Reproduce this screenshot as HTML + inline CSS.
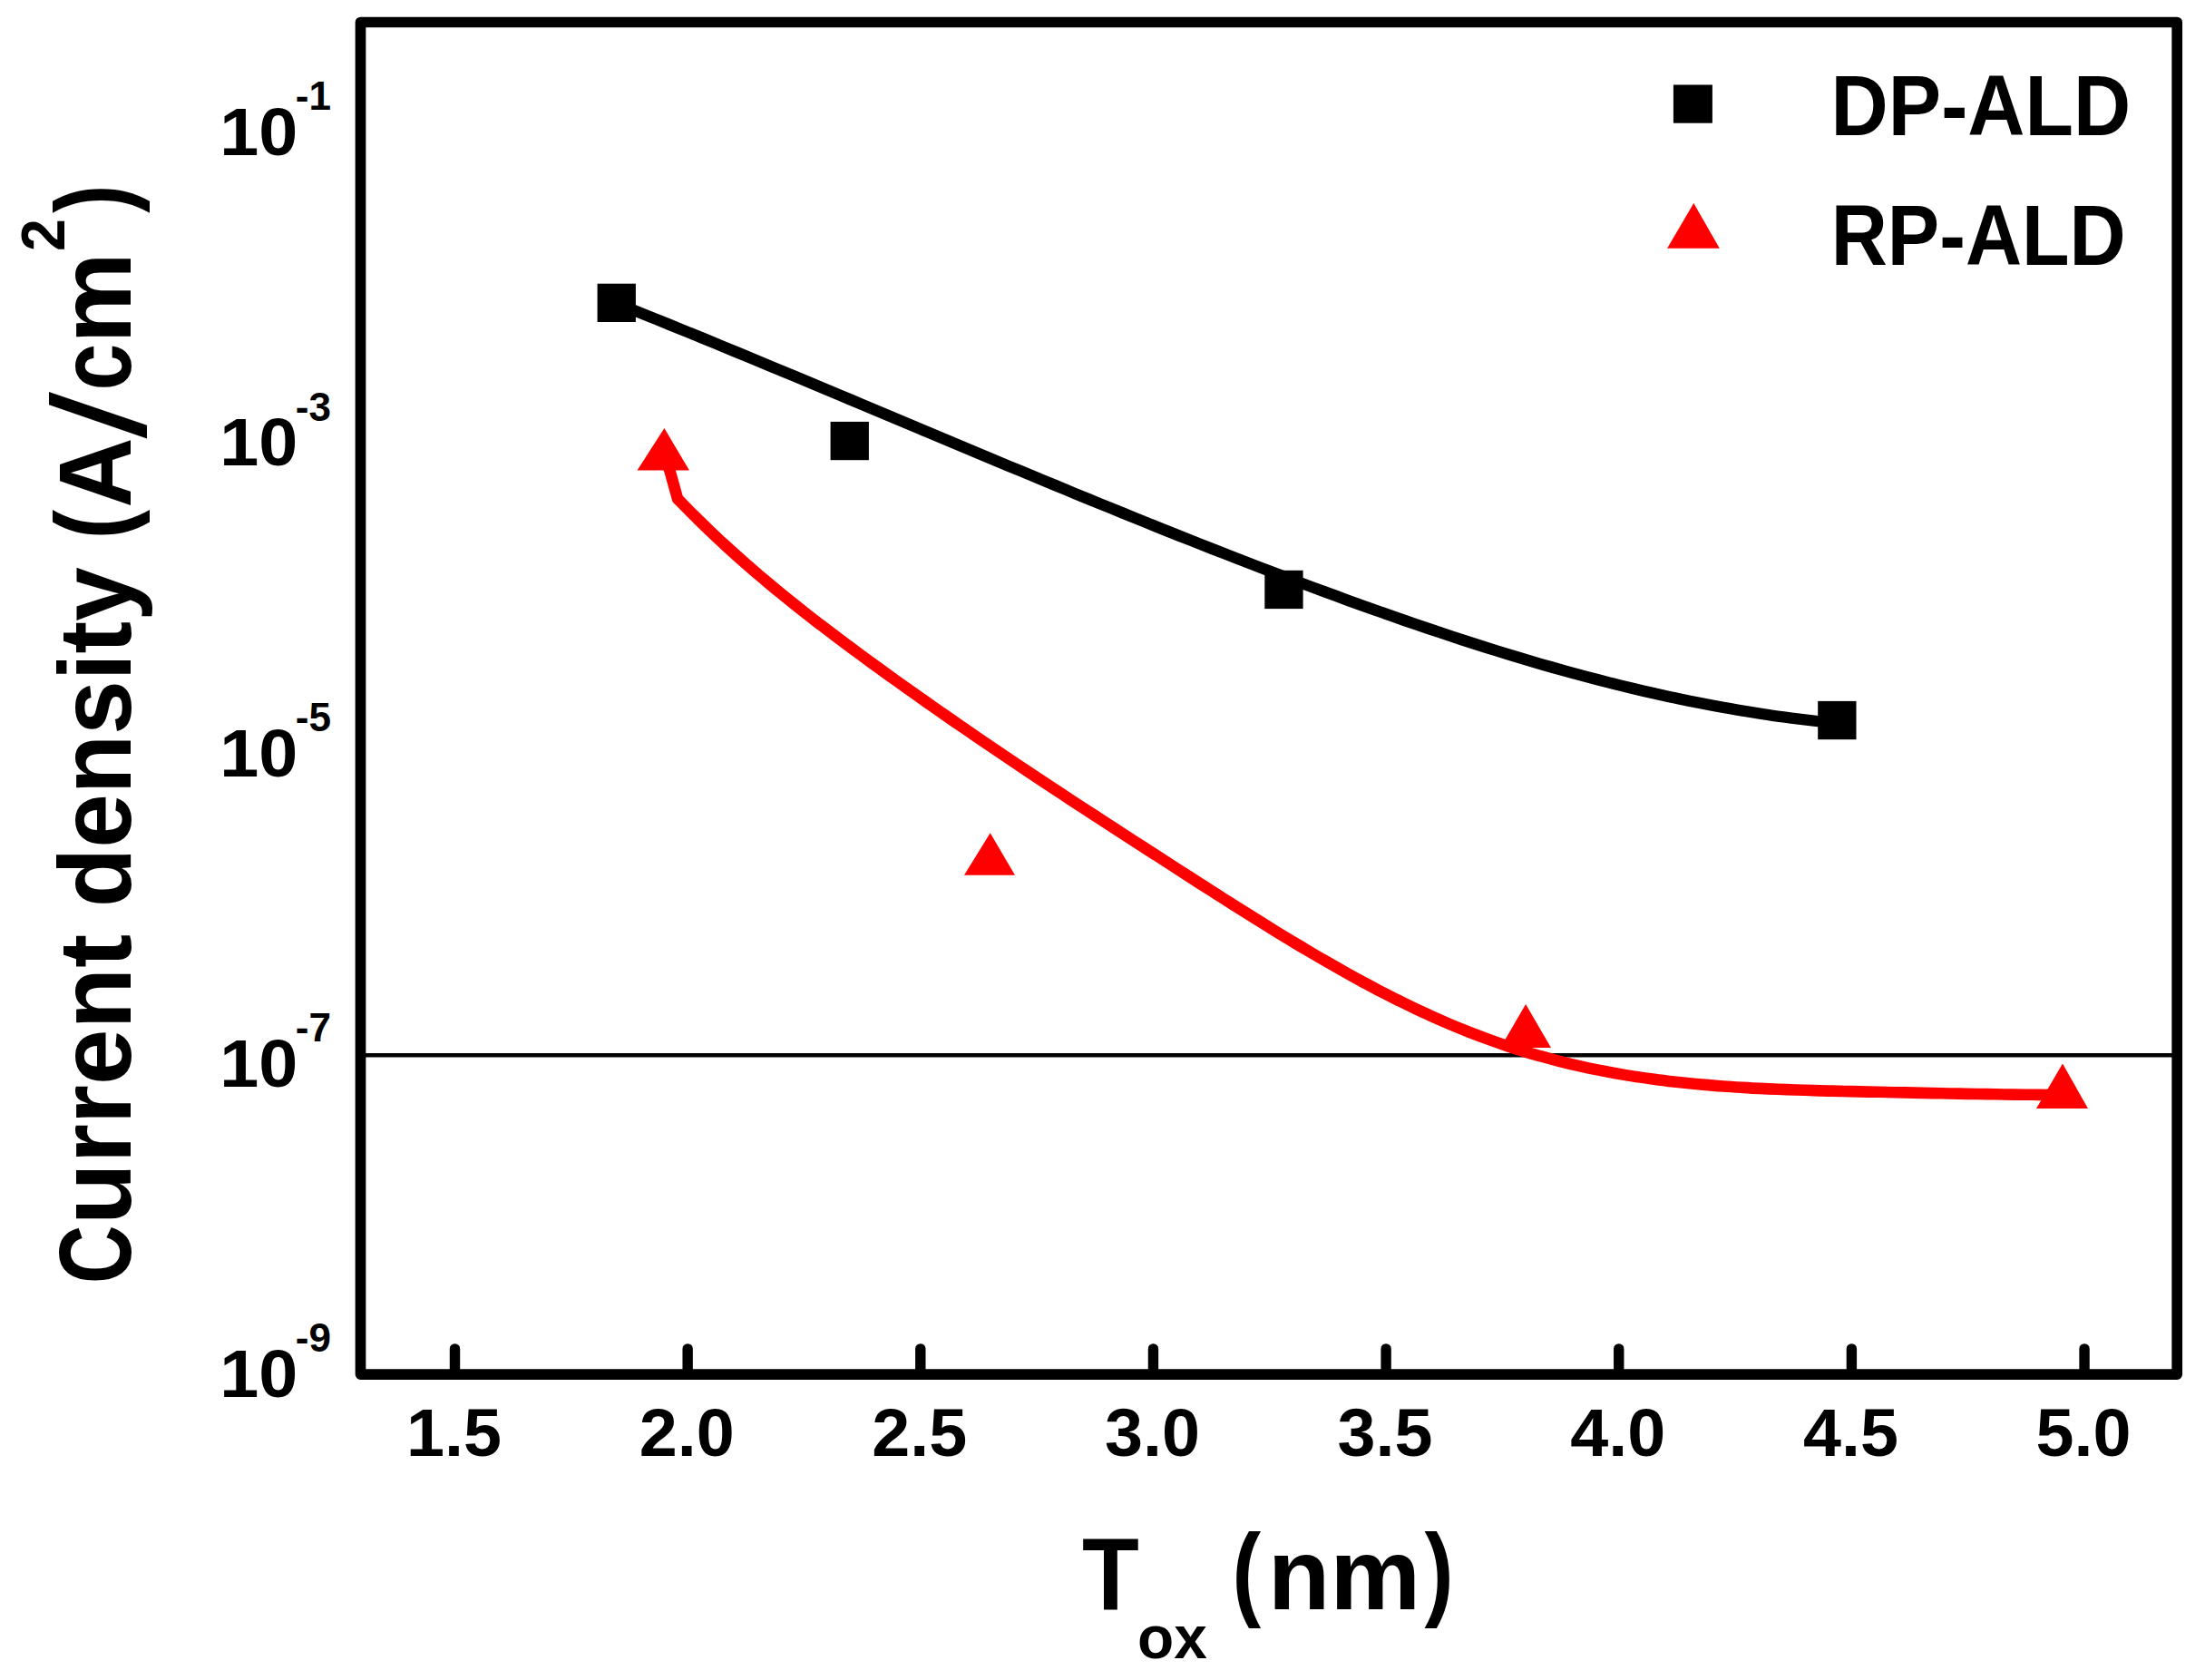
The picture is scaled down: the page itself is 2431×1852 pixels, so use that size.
<!DOCTYPE html>
<html lang="en"><head><meta charset="utf-8"><title>Current density vs Tox</title>
<style>html,body{margin:0;padding:0;background:#fff}svg{display:block}text{font-family:"Liberation Sans",Arimo,Arial,sans-serif;font-weight:bold}</style>
</head><body>
<svg width="2431" height="1852" viewBox="0 0 2431 1852">
<rect x="0" y="0" width="2431" height="1852" fill="#fff"/>
<line x1="397.5" y1="1163.30" x2="2400.2" y2="1163.30" stroke="#000" stroke-width="4.40"/>
<path d="M679.7 334.3 C683.1 335.7 692.5 339.4 700.0 342.5 C707.5 345.5 716.7 349.2 725.0 352.5 C733.3 355.9 741.7 359.3 750.0 362.7 C758.3 366.1 766.7 369.5 775.0 372.9 C783.3 376.3 791.7 379.8 800.0 383.2 C808.3 386.6 816.7 390.1 825.0 393.5 C833.3 397.0 841.7 400.4 850.0 403.9 C858.3 407.4 866.7 410.9 875.0 414.3 C883.3 417.8 891.7 421.3 900.0 424.8 C908.3 428.3 916.7 431.8 925.0 435.3 C933.3 438.7 941.7 442.2 950.0 445.7 C958.3 449.2 966.7 452.8 975.0 456.3 C983.3 459.8 991.7 463.3 1000.0 466.8 C1008.3 470.3 1016.7 473.8 1025.0 477.3 C1033.3 480.8 1041.7 484.3 1050.0 487.8 C1058.3 491.3 1066.7 494.7 1075.0 498.2 C1083.3 501.7 1091.7 505.2 1100.0 508.7 C1108.3 512.2 1116.7 515.6 1125.0 519.1 C1133.3 522.6 1141.7 526.0 1150.0 529.5 C1158.3 532.9 1166.7 536.4 1175.0 539.8 C1183.3 543.3 1191.7 546.7 1200.0 550.1 C1208.3 553.5 1216.7 556.9 1225.0 560.3 C1233.3 563.7 1241.7 567.1 1250.0 570.5 C1258.3 573.9 1266.7 577.2 1275.0 580.6 C1283.3 583.9 1291.7 587.3 1300.0 590.6 C1308.3 593.9 1316.7 597.2 1325.0 600.5 C1333.3 603.8 1341.7 607.1 1350.0 610.3 C1358.3 613.6 1366.7 616.8 1375.0 620.0 C1383.3 623.3 1391.7 626.5 1400.0 629.6 C1408.3 632.8 1416.7 636.0 1425.0 639.1 C1433.3 642.3 1441.7 645.4 1450.0 648.5 C1458.3 651.6 1466.7 654.7 1475.0 657.7 C1483.3 660.8 1491.7 663.8 1500.0 666.8 C1508.3 669.8 1516.7 672.8 1525.0 675.7 C1533.3 678.7 1541.7 681.6 1550.0 684.5 C1558.3 687.4 1566.7 690.2 1575.0 693.0 C1583.3 695.8 1591.7 698.6 1600.0 701.4 C1608.3 704.1 1616.7 706.8 1625.0 709.5 C1633.3 712.1 1641.7 714.8 1650.0 717.4 C1658.3 719.9 1666.7 722.5 1675.0 725.0 C1683.3 727.5 1691.7 729.9 1700.0 732.4 C1708.3 734.8 1716.7 737.1 1725.0 739.4 C1733.3 741.7 1741.7 744.0 1750.0 746.2 C1758.3 748.4 1766.7 750.6 1775.0 752.7 C1783.3 754.8 1791.7 756.9 1800.0 758.9 C1808.3 760.8 1816.7 762.8 1825.0 764.7 C1833.3 766.5 1841.7 768.4 1850.0 770.1 C1858.3 771.9 1866.7 773.6 1875.0 775.2 C1883.3 776.8 1891.7 778.4 1900.0 779.9 C1908.3 781.4 1916.7 782.9 1925.0 784.2 C1933.3 785.6 1941.7 786.9 1950.0 788.1 C1958.3 789.4 1966.7 790.5 1975.0 791.6 C1983.3 792.7 1991.6 793.7 2000.0 794.6 C2008.4 795.6 2021.2 796.8 2025.4 797.2" fill="none" stroke="#000" stroke-width="12.5" stroke-linejoin="round"/>
<path d="M731.5 502.6 L738.5 519.0 L747.1 550.0 C749.2 552.1 754.5 557.6 760.0 563.1 C765.5 568.5 773.3 576.3 780.0 582.7 C786.7 589.1 793.3 595.4 800.0 601.5 C806.7 607.6 813.3 613.6 820.0 619.5 C826.7 625.4 833.3 631.1 840.0 636.8 C846.7 642.4 853.3 648.0 860.0 653.4 C866.7 658.9 873.3 664.2 880.0 669.5 C886.7 674.8 893.3 680.0 900.0 685.2 C906.7 690.3 913.3 695.4 920.0 700.4 C926.7 705.5 933.3 710.4 940.0 715.4 C946.7 720.3 953.3 725.2 960.0 730.1 C966.7 734.9 973.3 739.7 980.0 744.6 C986.7 749.4 993.3 754.1 1000.0 758.9 C1006.7 763.6 1013.3 768.3 1020.0 773.0 C1026.7 777.7 1033.3 782.4 1040.0 787.0 C1046.7 791.7 1053.3 796.3 1060.0 800.9 C1066.7 805.4 1073.3 810.0 1080.0 814.6 C1086.7 819.1 1093.3 823.6 1100.0 828.1 C1106.7 832.6 1113.3 837.1 1120.0 841.6 C1126.7 846.1 1133.3 850.5 1140.0 854.9 C1146.7 859.4 1153.3 863.8 1160.0 868.2 C1166.7 872.6 1173.3 877.0 1180.0 881.4 C1186.7 885.7 1193.3 890.1 1200.0 894.5 C1206.7 898.8 1213.3 903.1 1220.0 907.5 C1226.7 911.8 1233.3 916.1 1240.0 920.5 C1246.7 924.8 1253.3 929.1 1260.0 933.4 C1266.7 937.7 1273.3 942.0 1280.0 946.3 C1286.7 950.6 1293.3 954.9 1300.0 959.2 C1306.7 963.5 1313.3 967.8 1320.0 972.1 C1326.7 976.3 1333.3 980.6 1340.0 984.9 C1346.7 989.1 1353.3 993.4 1360.0 997.6 C1366.7 1001.8 1373.3 1006.0 1380.0 1010.2 C1386.7 1014.4 1393.3 1018.5 1400.0 1022.7 C1406.7 1026.8 1413.3 1030.9 1420.0 1034.9 C1426.7 1038.9 1433.3 1043.0 1440.0 1046.9 C1446.7 1050.9 1453.3 1054.8 1460.0 1058.6 C1466.7 1062.5 1473.3 1066.3 1480.0 1070.0 C1486.7 1073.8 1493.3 1077.5 1500.0 1081.1 C1506.7 1084.7 1513.3 1088.3 1520.0 1091.8 C1526.7 1095.2 1533.3 1098.7 1540.0 1102.0 C1546.7 1105.3 1553.3 1108.6 1560.0 1111.8 C1566.7 1114.9 1573.3 1118.0 1580.0 1121.0 C1586.7 1124.0 1593.3 1126.9 1600.0 1129.7 C1606.7 1132.5 1613.3 1135.2 1620.0 1137.9 C1626.7 1140.5 1633.3 1143.0 1640.0 1145.4 C1646.7 1147.9 1653.3 1150.2 1660.0 1152.4 C1666.7 1154.7 1673.3 1156.8 1680.0 1158.9 C1686.7 1160.9 1693.3 1162.9 1700.0 1164.7 C1706.7 1166.6 1713.3 1168.4 1720.0 1170.1 C1726.7 1171.8 1733.3 1173.4 1740.0 1174.9 C1746.7 1176.4 1753.3 1177.8 1760.0 1179.2 C1766.7 1180.6 1773.3 1181.8 1780.0 1183.0 C1786.7 1184.2 1793.3 1185.3 1800.0 1186.4 C1806.7 1187.5 1813.3 1188.4 1820.0 1189.3 C1826.7 1190.3 1833.3 1191.1 1840.0 1191.9 C1846.7 1192.7 1853.3 1193.4 1860.0 1194.1 C1866.7 1194.8 1873.3 1195.4 1880.0 1195.9 C1886.7 1196.5 1893.3 1197.0 1900.0 1197.5 C1906.7 1198.0 1913.3 1198.4 1920.0 1198.8 C1926.7 1199.2 1933.3 1199.6 1940.0 1199.9 C1946.7 1200.2 1953.3 1200.5 1960.0 1200.8 C1966.7 1201.0 1973.3 1201.3 1980.0 1201.5 C1986.7 1201.7 1993.3 1201.9 2000.0 1202.1 C2006.7 1202.3 2013.3 1202.5 2020.0 1202.6 C2026.7 1202.8 2033.3 1203.0 2040.0 1203.1 C2046.7 1203.3 2053.3 1203.4 2060.0 1203.6 C2066.7 1203.7 2073.3 1203.9 2080.0 1204.0 C2086.7 1204.1 2093.3 1204.3 2100.0 1204.4 C2106.7 1204.6 2113.3 1204.7 2120.0 1204.9 C2126.7 1205.0 2133.3 1205.1 2140.0 1205.3 C2146.7 1205.4 2153.3 1205.5 2160.0 1205.6 C2166.7 1205.8 2173.3 1205.9 2180.0 1206.0 C2186.7 1206.1 2193.3 1206.2 2200.0 1206.3 C2206.7 1206.4 2213.3 1206.5 2220.0 1206.6 C2226.7 1206.7 2233.3 1206.8 2240.0 1206.8 C2246.7 1206.9 2254.4 1207.0 2260.0 1207.0 C2265.6 1207.1 2271.2 1207.1 2273.4 1207.1" fill="none" stroke="#f00" stroke-width="12.6" stroke-linejoin="round"/>
<rect x="658.6" y="312.7" width="42.3" height="42.3" fill="#000"/>
<rect x="915.6" y="464.9" width="42.3" height="42.3" fill="#000"/>
<rect x="1394.3" y="628.8" width="42.3" height="42.3" fill="#000"/>
<rect x="2004.2" y="772.9" width="42.3" height="42.3" fill="#000"/>
<polygon points="732.4,472.0 760.0,518.6 702.5,518.6" fill="#f00"/>
<polygon points="1091.7,918.3 1119.0,964.7 1063.0,964.7" fill="#f00"/>
<polygon points="1682.1,1107.0 1710.0,1154.9 1654.2,1154.9" fill="#f00"/>
<polygon points="2274.0,1172.6 2302.0,1221.9 2245.0,1221.9" fill="#f00"/>
<rect x="397.5" y="24.5" width="2002.7" height="1490.6" fill="none" stroke="#000" stroke-width="11.7" stroke-linejoin="round"/>
<line x1="501.50" y1="1486.9" x2="501.50" y2="1514.1" stroke="#000" stroke-width="11.4" stroke-linecap="round"/>
<line x1="758.15" y1="1486.9" x2="758.15" y2="1514.1" stroke="#000" stroke-width="11.4" stroke-linecap="round"/>
<line x1="1014.80" y1="1486.9" x2="1014.80" y2="1514.1" stroke="#000" stroke-width="11.4" stroke-linecap="round"/>
<line x1="1271.45" y1="1486.9" x2="1271.45" y2="1514.1" stroke="#000" stroke-width="11.4" stroke-linecap="round"/>
<line x1="1528.10" y1="1486.9" x2="1528.10" y2="1514.1" stroke="#000" stroke-width="11.4" stroke-linecap="round"/>
<line x1="1784.75" y1="1486.9" x2="1784.75" y2="1514.1" stroke="#000" stroke-width="11.4" stroke-linecap="round"/>
<line x1="2041.40" y1="1486.9" x2="2041.40" y2="1514.1" stroke="#000" stroke-width="11.4" stroke-linecap="round"/>
<line x1="2298.05" y1="1486.9" x2="2298.05" y2="1514.1" stroke="#000" stroke-width="11.4" stroke-linecap="round"/>
<text transform="translate(500.50 1605.30) scale(1.0100 1)" font-size="74.80" text-anchor="middle" fill="#000" >1.5</text>
<text transform="translate(757.15 1605.30) scale(1.0100 1)" font-size="74.80" text-anchor="middle" fill="#000" >2.0</text>
<text transform="translate(1013.80 1605.30) scale(1.0100 1)" font-size="74.80" text-anchor="middle" fill="#000" >2.5</text>
<text transform="translate(1270.45 1605.30) scale(1.0100 1)" font-size="74.80" text-anchor="middle" fill="#000" >3.0</text>
<text transform="translate(1527.10 1605.30) scale(1.0100 1)" font-size="74.80" text-anchor="middle" fill="#000" >3.5</text>
<text transform="translate(1783.75 1605.30) scale(1.0100 1)" font-size="74.80" text-anchor="middle" fill="#000" >4.0</text>
<text transform="translate(2040.40 1605.30) scale(1.0100 1)" font-size="74.80" text-anchor="middle" fill="#000" >4.5</text>
<text transform="translate(2297.05 1605.30) scale(1.0100 1)" font-size="74.80" text-anchor="middle" fill="#000" >5.0</text>
<text><tspan x="242.32" y="171.10" font-size="74.80" textLength="86.07" lengthAdjust="spacingAndGlyphs">10</tspan><tspan x="325.78" y="121.20" font-size="45.00" textLength="39.21" lengthAdjust="spacingAndGlyphs">-1</tspan></text>
<text><tspan x="242.32" y="513.40" font-size="74.80" textLength="86.07" lengthAdjust="spacingAndGlyphs">10</tspan><tspan x="325.78" y="463.50" font-size="45.00" textLength="39.21" lengthAdjust="spacingAndGlyphs">-3</tspan></text>
<text><tspan x="242.32" y="855.70" font-size="74.80" textLength="86.07" lengthAdjust="spacingAndGlyphs">10</tspan><tspan x="325.78" y="805.80" font-size="45.00" textLength="39.21" lengthAdjust="spacingAndGlyphs">-5</tspan></text>
<text><tspan x="242.32" y="1198.00" font-size="74.80" textLength="86.07" lengthAdjust="spacingAndGlyphs">10</tspan><tspan x="325.78" y="1148.10" font-size="45.00" textLength="39.21" lengthAdjust="spacingAndGlyphs">-7</tspan></text>
<text><tspan x="242.32" y="1540.30" font-size="74.80" textLength="86.07" lengthAdjust="spacingAndGlyphs">10</tspan><tspan x="325.78" y="1490.40" font-size="45.00" textLength="39.21" lengthAdjust="spacingAndGlyphs">-9</tspan></text>
<text><tspan x="1193.07" y="1773.80" font-size="114.00" textLength="62.85" lengthAdjust="spacingAndGlyphs">T</tspan><tspan x="1254.03" y="1828.20" font-size="67.50" textLength="76.79" lengthAdjust="spacingAndGlyphs">ox</tspan><tspan> </tspan><tspan x="1358.45" y="1770.90" font-size="115.50" textLength="31.65" lengthAdjust="spacingAndGlyphs">(</tspan><tspan x="1397.68" y="1773.80" font-size="112.00" textLength="168.59" lengthAdjust="spacingAndGlyphs">nm</tspan><tspan x="1570.50" y="1770.90" font-size="115.50" textLength="32.12" lengthAdjust="spacingAndGlyphs">)</tspan></text>
<text transform="translate(144.10 0) rotate(-90)"><tspan x="-1415.28" y="0.00" font-size="114.00" textLength="64.82" lengthAdjust="spacingAndGlyphs">C</tspan><tspan x="-1349.97" y="0.00" font-size="114.00" textLength="320.12" lengthAdjust="spacingAndGlyphs">urrent</tspan><tspan> </tspan><tspan x="-1000.19" y="0.00" font-size="114.00" textLength="374.93" lengthAdjust="spacingAndGlyphs">density</tspan><tspan> </tspan><tspan x="-594.24" y="-2.90" font-size="115.50" textLength="32.24" lengthAdjust="spacingAndGlyphs">(</tspan><tspan x="-559.68" y="0.00" font-size="114.00" textLength="77.28" lengthAdjust="spacingAndGlyphs">A</tspan><tspan x="-483.60" y="16.34" font-size="145.99" textLength="51.60" lengthAdjust="spacingAndGlyphs" font-weight="normal">/</tspan><tspan x="-430.54" y="0.00" font-size="114.00" textLength="51.85" lengthAdjust="spacingAndGlyphs">c</tspan><tspan x="-378.77" y="0.00" font-size="114.00" textLength="100.60" lengthAdjust="spacingAndGlyphs">m</tspan><tspan x="-276.95" y="-72.90" font-size="68.70" textLength="35.73" lengthAdjust="spacingAndGlyphs">2</tspan><tspan x="-234.69" y="-2.90" font-size="115.50" textLength="31.06" lengthAdjust="spacingAndGlyphs">)</tspan></text>
<rect x="1844.9" y="93.5" width="43.0" height="42.2" fill="#000"/>
<polygon points="1867.3,224.1 1895.8,273.7 1838.1,273.7" fill="#f00"/>
<text transform="translate(2018.60 149.30) scale(0.9210 1)" font-size="95.00" text-anchor="start" fill="#000" >DP-ALD</text>
<text transform="translate(2018.70 292.20) scale(0.9060 1)" font-size="95.00" text-anchor="start" fill="#000" >RP-ALD</text>
</svg></body></html>
